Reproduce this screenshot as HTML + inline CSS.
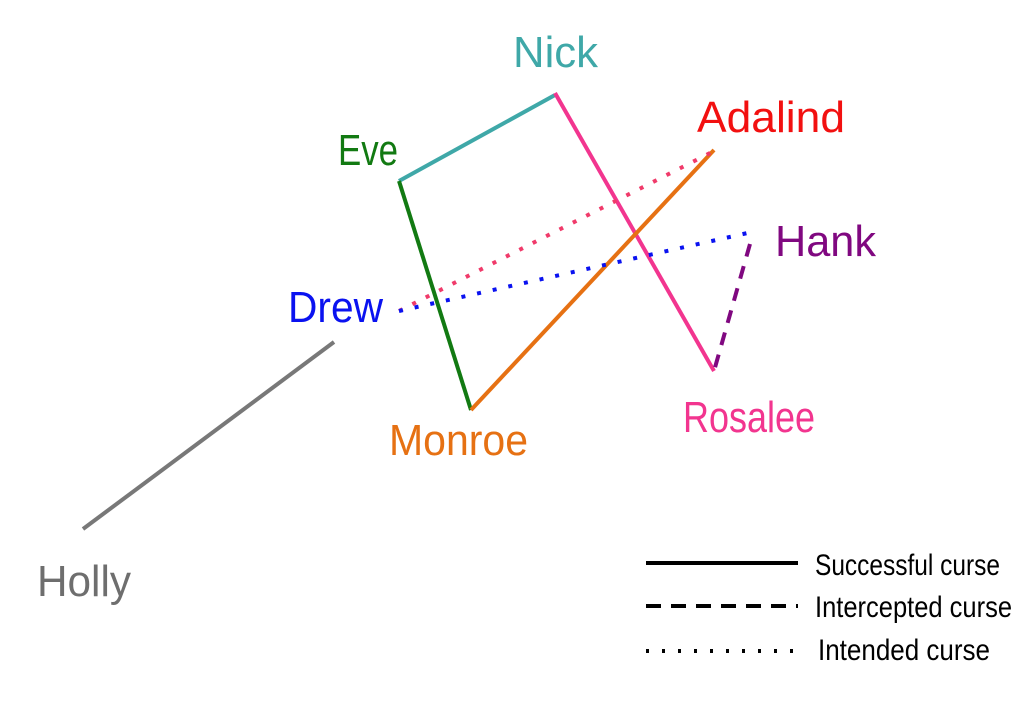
<!DOCTYPE html>
<html><head><meta charset="utf-8"><style>
html,body{margin:0;padding:0;background:#fff;}
svg{display:block}
text{font-family:"Liberation Sans Narrow","Liberation Sans",sans-serif;}
</style></head><body>
<svg width="1026" height="702" viewBox="0 0 1026 702" xmlns="http://www.w3.org/2000/svg">
<g stroke-width="4" fill="none">
<line x1="399" y1="181" x2="555" y2="95" stroke="#3fa8a8"/>
<line x1="555" y1="93" x2="714" y2="371" stroke="#f2358f"/>
<line x1="399" y1="181" x2="471" y2="410" stroke="#127a12"/>
<line x1="471" y1="410" x2="714" y2="150" stroke="#e67113"/>
<line x1="399" y1="311" x2="714" y2="151" stroke="#f03a6a" stroke-dasharray="4 11"/>
<line x1="399" y1="311" x2="752" y2="232" stroke="#0a12f0" stroke-dasharray="4 12"/>
<line x1="750" y1="244" x2="714" y2="371" stroke="#800880" stroke-dasharray="13 10"/>
<line x1="83" y1="529" x2="334" y2="342" stroke="#787878"/>
<line x1="646" y1="563" x2="798" y2="563" stroke="#000"/>
<line x1="646" y1="606" x2="798" y2="606" stroke="#000" stroke-dasharray="15 10"/>
<line x1="646" y1="651" x2="798" y2="651" stroke="#000" stroke-dasharray="3 13"/>
</g>
<g font-size="44">
<text x="513" y="67" fill="#3fa8a8" textLength="85" lengthAdjust="spacingAndGlyphs">Nick</text>
<text x="338" y="165" fill="#127a12" textLength="60" lengthAdjust="spacingAndGlyphs">Eve</text>
<text x="697" y="132" fill="#f21010" textLength="148" lengthAdjust="spacingAndGlyphs">Adalind</text>
<text x="775" y="256" fill="#800880" textLength="101" lengthAdjust="spacingAndGlyphs">Hank</text>
<text x="288" y="322" fill="#0a12f0" textLength="95" lengthAdjust="spacingAndGlyphs">Drew</text>
<text x="389" y="455" fill="#e67113" textLength="139" lengthAdjust="spacingAndGlyphs">Monroe</text>
<text x="683" y="432" fill="#f2358f" textLength="132" lengthAdjust="spacingAndGlyphs">Rosalee</text>
<text x="37" y="596" fill="#6e6e6e" textLength="94" lengthAdjust="spacingAndGlyphs">Holly</text>
</g>
<g font-size="30" fill="#000">
<text x="815" y="575" textLength="185" lengthAdjust="spacingAndGlyphs">Successful curse</text>
<text x="815" y="617" textLength="197" lengthAdjust="spacingAndGlyphs">Intercepted curse</text>
<text x="818" y="660" textLength="172" lengthAdjust="spacingAndGlyphs">Intended curse</text>
</g>
</svg>
</body></html>
